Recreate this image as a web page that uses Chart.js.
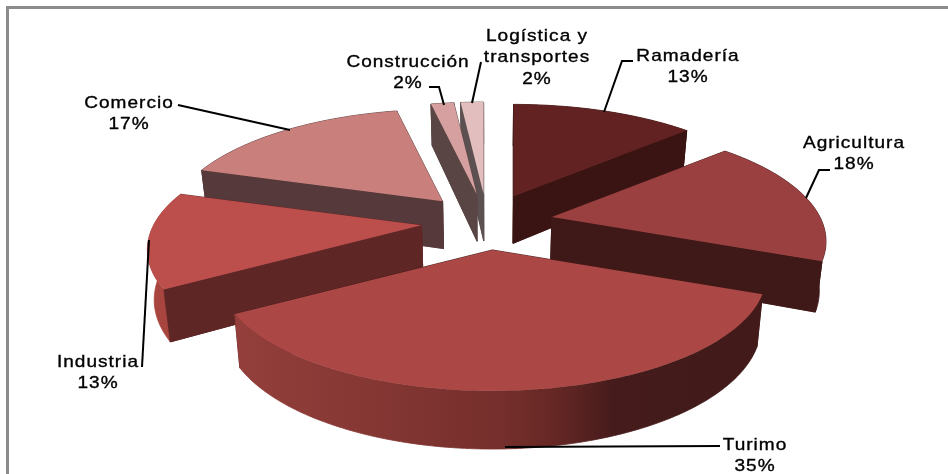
<!DOCTYPE html>
<html><head><meta charset="utf-8">
<style>html,body{margin:0;padding:0;background:#fff}canvas{display:block}</style>
<script src="https://cdn.jsdelivr.net/npm/chart.js@4"></script>
</head><body><canvas id="c" width="948" height="474"></canvas>
<script>
const categories = ['Ramadería','Agricultura','Turimo','Industria','Comercio','Construcción','Logística y transportes'];
const shares = [13.2,17.8,35.4,13.4,16.9,1.65,1.65];
const topColors = ['#632222','#9a4040','#ab4744','#bc4f4c','#c9807c','#d5a09f','#e2bfbe'];
const wallColors = ['#3a1412','#3f1918','#421a1a','#5f2626','#56393a','#584544','#5c5050'];
const rimStops = [
  [[0,'#3a1412'],[1,'#3a1412']],
  [[0,'#3f1918'],[1,'#3f1918']],
  [[0,'#943f3b'],[.5,'#762f2c'],[.6,'#672825'],[.72,'#451b1b'],[1,'#421a1a']],
  [[0,'#a8453f'],[1,'#a8453f']],
  [[0,'#56393a'],[1,'#56393a']],
  [[0,'#584544'],[1,'#584544']],
  [[0,'#5c5050'],[1,'#5c5050']]
];
const nameLines = [['Ramadería'],['Agricultura'],['Turimo'],['Industria'],['Comercio'],['Construcción'],['Logística y','transportes']];
const labelCenters = [[688,61],[854,148],[755,450],[98,367],[129,108],[408,67],[537,41]];
const leaders = [
  [[604,112],[622,61],[633,61]],
  [[806,198],[819,170],[830,170]],
  [[505,447],[720,446]],
  [[149,240],[142,367]],
  [[290,130],[178,105]],
  [[444,105],[439,87],[429,87]],
  [[472,103],[481,62]]
];

// Pie view: centre, explode distance, ellipse radii, perspective
const view = {cx:487, cy:222, ex:66, ey:28, A:268, B:111.3, q:.21};
const project = (ap, th) => {
  const s = 1/(1 + view.q*Math.cos(th));
  return [ap[0] + view.A*Math.sin(th)*s, ap[1] - view.B*Math.cos(th)*s];
};
const drop = p => [p[0] - (p[0]-490)*.02, p[1] + 47 + (p[1]-197)*.058];

const pie3d = {
  id:'pie3d',
  beforeDraw(chart){
    const g = chart.ctx;
    g.save();
    g.fillStyle = '#fff'; g.fillRect(0,0,chart.width,chart.height);
    g.strokeStyle = '#8c8c8c'; g.lineWidth = 3;
    g.beginPath(); g.moveTo(7.5,chart.height); g.lineTo(7.5,7.5); g.lineTo(chart.width,7.5); g.stroke();
    g.restore();
  },
  beforeDatasetDraw(chart, args){
    const g = chart.ctx, arcs = chart.getDatasetMeta(args.index).data;
    const slices = arcs.map((a,i) => {
      const t0 = a.startAngle + Math.PI/2, t1 = a.endAngle + Math.PI/2, m = (t0+t1)/2;
      return {i, t0, t1, m, ap:[view.cx + view.ex*Math.sin(m), view.cy - view.ey*Math.cos(m)]};
    }).sort((p,r) => Math.cos(r.m) - Math.cos(p.m));
    const poly = pts => { g.beginPath(); pts.forEach((p,k)=> k? g.lineTo(p[0],p[1]) : g.moveTo(p[0],p[1])); g.closePath(); };
    g.save();
    g.lineWidth = .8; g.lineJoin = 'round';
    slices.forEach(s => {
      const n = Math.max(8, Math.ceil((s.t1-s.t0)*60));
      const rim = [];
      for(let k=0;k<=n;k++) rim.push(project(s.ap, s.t0+(s.t1-s.t0)*k/n));
      const rimLow = rim.map(drop), apLow = drop(s.ap);
      const xs = rim.map(p=>p[0]);
      const grad = g.createLinearGradient(Math.min(...xs),0,Math.max(...xs),0);
      rimStops[s.i].forEach(st => grad.addColorStop(st[0], st[1]));
      g.fillStyle = wallColors[s.i]; g.strokeStyle = wallColors[s.i];
      poly([s.ap, rim[0], rimLow[0], apLow]); g.fill(); g.stroke();
      poly([s.ap, rim[n], rimLow[n], apLow]); g.fill(); g.stroke();
      g.fillStyle = grad; g.strokeStyle = grad;
      poly(rim.concat(rimLow.slice().reverse())); g.fill(); g.stroke();
      // radial wall facing the viewer stays in front of the rim on the back half
      if (Math.cos(s.t1) > -0.2 || Math.cos(s.t0) > -0.2) {
        g.fillStyle = wallColors[s.i]; g.strokeStyle = wallColors[s.i];
        if (Math.sin(s.t0) < 0 && Math.cos(s.t0) > -0.6) { poly([s.ap, rim[0], rimLow[0], apLow]); g.fill(); g.stroke(); }
        if (Math.sin(s.t1) > 0 && Math.cos(s.t1) > -0.6) { poly([s.ap, rim[n], rimLow[n], apLow]); g.fill(); g.stroke(); }
      }
      g.fillStyle = arcs[s.i].options.backgroundColor;
      poly([s.ap].concat(rim)); g.fill();
    });
    g.restore();
    return false;
  },
  afterDatasetsDraw(chart){
    const g = chart.ctx;
    const values = chart.data.datasets[0].data;
    g.save();
    g.strokeStyle = '#000'; g.lineWidth = 2; g.lineJoin = 'miter';
    leaders.forEach(l => {
      g.beginPath();
      l.forEach((p,k)=> k? g.lineTo(p[0],p[1]) : g.moveTo(p[0],p[1]));
      g.stroke();
    });
    g.fillStyle = '#000'; g.lineWidth = .35;
    g.font = '17px "Liberation Sans", Arial, sans-serif';
    g.textAlign = 'center'; g.textBaseline = 'alphabetic';
    g.letterSpacing = '0.9px';
    nameLines.forEach((names,i) => {
      names.concat(Math.round(values[i]) + '%').forEach((t,j) => {
        g.save();
        g.translate(labelCenters[i][0], labelCenters[i][1] + j*21.3);
        g.scale(1.12,1);
        g.fillText(t,0,0);
        g.strokeText(t,0,0);
        g.restore();
      });
    });
    g.restore();
  }
};

new Chart(document.getElementById('c'), {
  type:'pie',
  data:{labels:categories, datasets:[{data:shares, backgroundColor:topColors, borderWidth:0}]},
  options:{
    responsive:false, animation:false,
    plugins:{legend:{display:false}, tooltip:{enabled:false}}
  },
  plugins:[pie3d]
});
</script></body></html>
